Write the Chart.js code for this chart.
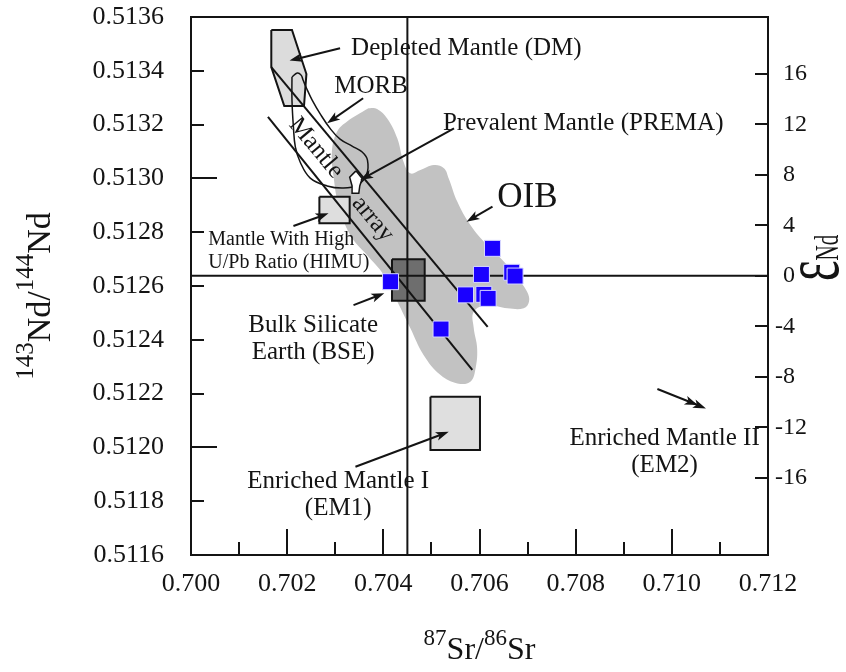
<!DOCTYPE html>
<html>
<head>
<meta charset="utf-8">
<script src="https://cdn.jsdelivr.net/npm/chart.js@4.4.1/dist/chart.umd.min.js"></script>
<style>
  html, body { margin: 0; padding: 0; background: #fff; }
</style>
</head>
<body>
<canvas id="srNd" width="846" height="672"></canvas>
<script>
// Axis ticks
var srTicks = [0.700, 0.702, 0.704, 0.706, 0.708, 0.710, 0.712];
var srMinorTicks = [0.701, 0.703, 0.705, 0.707, 0.709, 0.711];
var ndTicks = [0.5116, 0.5118, 0.5120, 0.5122, 0.5124, 0.5126, 0.5128, 0.5130, 0.5132, 0.5134, 0.5136];
var ndMajorTicks = [0.5120, 0.5130];
var eNdTicks = [-16, -12, -8, -4, 0, 4, 8, 12, 16];
var eNdMin = -22.1, eNdMax = 20.5;

// Samples
var sampleSr = [0.70415, 0.70627, 0.70604, 0.70667, 0.70674, 0.70571, 0.70609, 0.70618, 0.70520];
var sampleNd = [0.512616, 0.512740, 0.512643, 0.512651, 0.512637, 0.512567, 0.512569, 0.512554, 0.512440];

// Bulk earth reference lines
var bseSr = 0.7045;
var churNd = 0.512638;

// OIB field
var oibSr = [0.70369, 0.70324, 0.70304, 0.70293, 0.70297, 0.70307, 0.70331, 0.70366, 0.70401, 0.70429,
             0.70456, 0.70484, 0.70519, 0.70554, 0.70581, 0.70592, 0.70595, 0.70588, 0.70588, 0.70616,
             0.70658, 0.70692, 0.70703, 0.70699, 0.70679, 0.70651, 0.70616, 0.70581, 0.70554, 0.70536,
             0.70526, 0.70505, 0.70477, 0.70456, 0.70442, 0.70429, 0.70408, 0.70387, 0.70369];
var oibNd = [0.513261, 0.513211, 0.513174, 0.513099, 0.513000, 0.512901, 0.512790, 0.512715, 0.512641, 0.512542,
             0.512444, 0.512343, 0.512269, 0.512238, 0.512244, 0.512295, 0.512370, 0.512444, 0.512504, 0.512529,
             0.512517, 0.512517, 0.512542, 0.512579, 0.512629, 0.512690, 0.512752, 0.512827, 0.512913, 0.513000,
             0.513038, 0.513050, 0.513031, 0.513019, 0.513062, 0.513149, 0.513223, 0.513258, 0.513261];

// MORB field (outline)
var morbSr = [0.70210, 0.70210, 0.70213, 0.70217, 0.70227, 0.70248, 0.70283, 0.70317, 0.70346, 0.70365,
              0.70367, 0.70356, 0.70335, 0.70310, 0.70290, 0.70269, 0.70252, 0.70240, 0.70233, 0.70229,
              0.70221, 0.70210];
var morbNd = [0.513377, 0.513291, 0.513191, 0.513117, 0.513061, 0.513001, 0.512972, 0.512964, 0.512975, 0.513013,
              0.513068, 0.513098, 0.513120, 0.513146, 0.513184, 0.513239, 0.513291, 0.513336, 0.513366, 0.513384,
              0.513392, 0.513377];

// Mantle end-members
var dmSr = [0.70167, 0.70210, 0.70240, 0.70235, 0.70194, 0.70167, 0.70167];
var dmNd = [0.513552, 0.513552, 0.513388, 0.513269, 0.513269, 0.513414, 0.513552];
var premaSr = [0.70343, 0.70356, 0.70351, 0.70349, 0.70335, 0.70335, 0.70330, 0.70343];
var premaNd = [0.513028, 0.513000, 0.512972, 0.512945, 0.512945, 0.512972, 0.513004, 0.513028];
var himuSr = [0.70267, 0.70330, 0.70330, 0.70267, 0.70267];
var himuNd = [0.512932, 0.512932, 0.512833, 0.512833, 0.512932];
var bseBoxSr = [0.70418, 0.70486, 0.70486, 0.70418, 0.70418];
var bseBoxNd = [0.512699, 0.512699, 0.512545, 0.512545, 0.512699];
var em1Sr = [0.70498, 0.70601, 0.70601, 0.70498, 0.70498];
var em1Nd = [0.512188, 0.512188, 0.511990, 0.511990, 0.512188];

// Mantle array
var arrayUpperSr = [0.70167, 0.70617];
var arrayUpperNd = [0.513414, 0.512448];
var arrayLowerSr = [0.70160, 0.70585];
var arrayLowerNd = [0.513229, 0.512288];

function pts(xs, ys) {
    return xs.map(function (x, i) { return { x: x, y: ys[i] }; });
}

// Labels and arrows (positions in data units)
var notes = [
    { lines: ['Depleted Mantle (DM)'], at: [0.70333, 0.513459], align: 'left', size: 25 },
    { lines: ['MORB'], at: [0.70298, 0.513319], align: 'left', size: 25 },
    { lines: ['Prevalent Mantle (PREMA)'], at: [0.70524, 0.513180], align: 'left', size: 25 },
    { lines: ['OIB'], at: [0.70637, 0.512895], align: 'left', size: 35 },
    { lines: ['Mantle With High', 'U/Pb Ratio (HIMU)'], at: [0.70036, 0.512752], align: 'left', size: 20, lead: 23 },
    { lines: ['Bulk Silicate', 'Earth (BSE)'], at: [0.70254, 0.512430], align: 'center', size: 25, lead: 27 },
    { lines: ['Enriched Mantle I', '(EM1)'], at: [0.70306, 0.511848], align: 'center', size: 25, lead: 27 },
    { lines: ['Enriched Mantle II', '(EM2)'], at: [0.70985, 0.512009], align: 'center', size: 25, lead: 27 }
];
var arrayNotes = [
    { text: 'Mantle', at: [0.70260, 0.513113] },
    { text: 'array', at: [0.70378, 0.512849] }
];
var arrows = [
    { from: [0.70310, 0.513484], to: [0.70205, 0.513438] },
    { from: [0.70358, 0.513298], to: [0.70283, 0.513205] },
    { from: [0.70547, 0.513186], to: [0.70352, 0.512994] },
    { from: [0.70627, 0.512895], to: [0.70573, 0.512839] },
    { from: [0.70213, 0.512823], to: [0.70286, 0.512870] },
    { from: [0.70338, 0.512529], to: [0.70402, 0.512573] },
    { from: [0.70342, 0.511928], to: [0.70536, 0.512058] },
    { from: [0.70970, 0.512217], to: [0.71071, 0.512145], heads: 2 }
];

var ink = '#141414';
var serif = "'Liberation Serif', 'Times New Roman', serif";

function drawArrow(c, x1, y1, x2, y2, heads) {
    var ang = Math.atan2(y2 - y1, x2 - x1);
    var len = 13, half = 4.5;
    c.beginPath();
    c.moveTo(x1, y1);
    c.lineTo(x2 - Math.cos(ang) * len * 0.7, y2 - Math.sin(ang) * len * 0.7);
    c.stroke();
    for (var h = 0; h < (heads || 1); h++) {
        var tx = x2 - Math.cos(ang) * h * 9, ty = y2 - Math.sin(ang) * h * 9;
        c.beginPath();
        c.moveTo(tx, ty);
        c.lineTo(tx - Math.cos(ang) * len + Math.sin(ang) * half, ty - Math.sin(ang) * len - Math.cos(ang) * half);
        c.lineTo(tx - Math.cos(ang) * len * 0.75, ty - Math.sin(ang) * len * 0.75);
        c.lineTo(tx - Math.cos(ang) * len - Math.sin(ang) * half, ty - Math.sin(ang) * len + Math.cos(ang) * half);
        c.closePath();
        c.fill();
    }
}

// text made of normal and superscript parts, drawn from x along the baseline
function richWidth(c, parts, big, small) {
    var w = 0;
    parts.forEach(function (p) {
        c.font = (p.sup ? small : big) + 'px ' + serif;
        w += c.measureText(p.t).width;
    });
    return w;
}
function drawRich(c, parts, x, y, big, small, rise) {
    parts.forEach(function (p) {
        c.font = (p.sup ? small : big) + 'px ' + serif;
        c.fillText(p.t, x, p.sup ? y - rise : y);
        x += c.measureText(p.t).width;
    });
}

var decor = {
    id: 'decor',
    afterDatasetsDraw: function (chart) {
        var c = chart.ctx, sx = chart.scales.x, sy = chart.scales.y;
        c.save();
        c.fillStyle = ink;
        c.strokeStyle = ink;
        c.lineWidth = 2;
        arrows.forEach(function (a) {
            drawArrow(c, sx.getPixelForValue(a.from[0]), sy.getPixelForValue(a.from[1]),
                sx.getPixelForValue(a.to[0]), sy.getPixelForValue(a.to[1]), a.heads);
        });
        c.textBaseline = 'alphabetic';
        notes.forEach(function (n) {
            c.font = n.size + 'px ' + serif;
            c.textAlign = n.align;
            var x = sx.getPixelForValue(n.at[0]), y = sy.getPixelForValue(n.at[1]);
            n.lines.forEach(function (line, i) {
                c.fillText(line, x, y + i * (n.lead || 0));
            });
        });
        // text along the mantle array
        var ang = Math.atan2(sy.getPixelForValue(arrayUpperNd[1]) - sy.getPixelForValue(arrayUpperNd[0]),
            sx.getPixelForValue(arrayUpperSr[1]) - sx.getPixelForValue(arrayUpperSr[0]));
        c.font = '25px ' + serif;
        c.textAlign = 'center';
        c.textBaseline = 'middle';
        arrayNotes.forEach(function (n) {
            c.save();
            c.translate(sx.getPixelForValue(n.at[0]), sy.getPixelForValue(n.at[1]));
            c.rotate(ang);
            c.fillText(n.text, 0, 0);
            c.restore();
        });
        c.restore();
    },
    afterDraw: function (chart) {
        var c = chart.ctx, a = chart.chartArea;
        var sx = chart.scales.x, sy = chart.scales.y, se = chart.scales.y2;
        c.save();
        c.strokeStyle = ink;
        c.fillStyle = ink;
        c.lineWidth = 2;
        c.strokeRect(a.left, a.top, a.right - a.left, a.bottom - a.top);

        // inward tick marks
        c.beginPath();
        srTicks.concat(srMinorTicks).forEach(function (v) {
            var px = Math.round(sx.getPixelForValue(v));
            var long = srTicks.indexOf(v) >= 0;
            c.moveTo(px, a.bottom);
            c.lineTo(px, a.bottom - (long ? 26 : 13));
        });
        ndTicks.forEach(function (v) {
            var py = Math.round(sy.getPixelForValue(v));
            var long = ndMajorTicks.indexOf(v) >= 0;
            c.moveTo(a.left, py);
            c.lineTo(a.left + (long ? 26 : 13), py);
        });
        eNdTicks.forEach(function (v) {
            var py = Math.round(se.getPixelForValue(v));
            c.moveTo(a.right, py);
            c.lineTo(a.right - 13, py);
        });
        c.stroke();

        // right axis labels, digits aligned, minus hanging left
        c.font = '24px ' + serif;
        c.textBaseline = 'middle';
        eNdTicks.forEach(function (v) {
            var py = se.getPixelForValue(v);
            c.textAlign = 'left';
            c.fillText(String(Math.abs(v)), a.right + 15, py);
            if (v < 0) {
                c.textAlign = 'right';
                c.fillText('-', a.right + 15, py);
            }
        });

        // axis titles
        c.textAlign = 'left';
        c.textBaseline = 'alphabetic';
        var xt = [{ t: '87', sup: true }, { t: 'Sr/' }, { t: '86', sup: true }, { t: 'Sr' }];
        var w = richWidth(c, xt, 32, 23);
        drawRich(c, xt, (a.left + a.right) / 2 - w / 2, 659, 32, 23, 14);

        var yt = [{ t: '143', sup: true }, { t: 'Nd/' }, { t: '144', sup: true }, { t: 'Nd' }];
        c.save();
        c.translate(50, 296);
        c.rotate(-Math.PI / 2);
        w = richWidth(c, yt, 34, 25);
        drawRich(c, yt, -w / 2, 0, 34, 25, 17);
        c.restore();

        // epsilon Nd title on the right
        c.save();
        c.translate(838, 258);
        c.rotate(-Math.PI / 2);
        c.scale(0.62, 1);
        c.font = '80px ' + serif;
        var we = c.measureText('\u03B5').width;
        c.font = '34px ' + serif;
        var wn = c.measureText('Nd').width;
        var x0 = -(we + wn) / 2;
        c.font = '80px ' + serif;
        c.fillText('\u03B5', x0, 0);
        c.font = '34px ' + serif;
        c.fillText('Nd', x0 + we, 0);
        c.restore();
        c.restore();
    }
};

var lineBase = { showLine: true, pointRadius: 0, borderColor: ink, borderWidth: 2, fill: false };
function field(xs, ys, extra) {
    return Object.assign({}, lineBase, { data: pts(xs, ys) }, extra);
}

// keep the plot frame where it is in the figure
function noPad(s) {
    s.paddingTop = 0;
    s.paddingBottom = 0;
    s.paddingLeft = 0;
    s.paddingRight = 0;
}

Chart.defaults.font.family = serif;
Chart.defaults.color = ink;

new Chart(document.getElementById('srNd').getContext('2d'), {
    type: 'scatter',
    data: {
        datasets: [
            {
                label: 'Samples',
                data: pts(sampleSr, sampleNd),
                pointStyle: 'rect',
                pointRadius: 11.3,
                backgroundColor: '#1a00ff',
                borderColor: '#d8d8ff',
                borderWidth: 1,
                order: 0
            },
            field([bseSr, bseSr], [ndTicks[0], ndTicks[ndTicks.length - 1]], { order: 1 }),
            field([srTicks[0], srTicks[srTicks.length - 1]], [churNd, churNd], { order: 1 }),
            field(arrayUpperSr, arrayUpperNd, { order: 1 }),
            field(arrayLowerSr, arrayLowerNd, { order: 1 }),
            field(bseBoxSr, bseBoxNd, { fill: 'shape', backgroundColor: '#6e6e6e', order: 2 }),
            field(himuSr, himuNd, { fill: 'shape', backgroundColor: '#dedede', order: 2 }),
            field(em1Sr, em1Nd, { fill: 'shape', backgroundColor: '#dfdfdf', order: 2 }),
            field(premaSr, premaNd, { fill: 'shape', backgroundColor: '#ffffff', borderWidth: 1.5, order: 2 }),
            field(morbSr, morbNd, { borderWidth: 1.5, tension: 0.4, order: 3 }),
            field(dmSr, dmNd, { fill: 'shape', backgroundColor: '#dcdcdc', order: 4 }),
            field(oibSr, oibNd, { fill: 'shape', backgroundColor: '#c2c2c2', borderWidth: 0, tension: 0.4, order: 6 })
        ]
    },
    options: {
        responsive: false,
        animation: false,
        devicePixelRatio: 1,
        events: [],
        layout: { padding: { top: 17, left: 0, right: 0, bottom: 0 } },
        plugins: { legend: { display: false }, tooltip: { enabled: false } },
        scales: {
            x: {
                type: 'linear',
                position: 'bottom',
                min: srTicks[0],
                max: srTicks[srTicks.length - 1],
                grid: { display: false, drawTicks: false },
                border: { display: false },
                afterBuildTicks: function (s) { s.ticks = srTicks.map(function (v) { return { value: v }; }); },
                afterFit: function (s) { s.height = 117; noPad(s); },
                ticks: {
                    font: { size: 26 }, padding: 14, maxRotation: 0, autoSkip: false,
                    callback: function (v) { return v.toFixed(3); }
                }
            },
            y: {
                type: 'linear',
                position: 'left',
                min: ndTicks[0],
                max: ndTicks[ndTicks.length - 1],
                grid: { display: false, drawTicks: false },
                border: { display: false },
                afterBuildTicks: function (s) { s.ticks = ndTicks.map(function (v) { return { value: v }; }); },
                afterFit: function (s) { s.width = 191; noPad(s); },
                ticks: {
                    font: { size: 26 }, padding: 27, autoSkip: false,
                    callback: function (v) { return v.toFixed(4); }
                }
            },
            y2: {
                type: 'linear',
                position: 'right',
                min: eNdMin,
                max: eNdMax,
                grid: { display: false, drawTicks: false },
                border: { display: false },
                ticks: { display: false },
                afterFit: function (s) { s.width = 78; noPad(s); }
            }
        }
    },
    plugins: [decor]
});
</script>
</body>
</html>
